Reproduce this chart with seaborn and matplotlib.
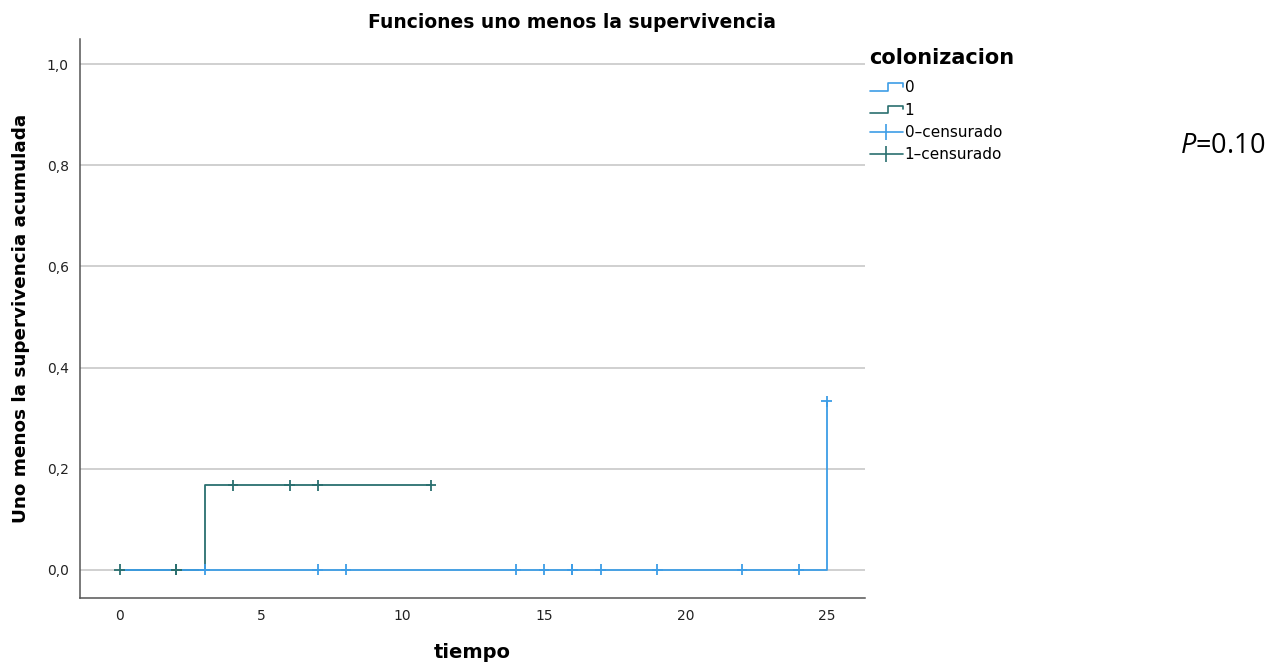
import numpy as np
import pandas as pd
import matplotlib
matplotlib.use("Agg")
import matplotlib.pyplot as plt
import seaborn as sns
from matplotlib.lines import Line2D
from matplotlib.legend_handler import HandlerBase

# curvas (uno menos la supervivencia) por grupo
tiempo_0 = [0, 25]
valor_0 = [0.0, 0.3333]
tiempo_1 = [0, 3, 11]
valor_1 = [0.0, 0.1667, 0.1667]

# casos censurados
cens_t_0 = [3, 7, 8, 14, 15, 16, 16, 17, 19, 22, 24, 25]
cens_y_0 = [0, 0, 0, 0, 0, 0, 0, 0, 0, 0, 0, 0.3333]
cens_t_1 = [0, 2, 2, 4, 6, 7, 11]
cens_y_1 = [0, 0, 0, 0.1667, 0.1667, 0.1667, 0.1667]

y_ticks = [0.0, 0.2, 0.4, 0.6, 0.8, 1.0]
x_ticks = [0, 5, 10, 15, 20, 25]

col0 = "#3d9de6"
col1 = "#2a6f6f"


class StepHandler(HandlerBase):
    def create_artists(self, legend, orig_handle, xdescent, ydescent,
                       width, height, fontsize, trans):
        y0 = height * 0.15 - ydescent
        y1 = height * 0.85 - ydescent
        xs = [-xdescent, -xdescent + width * 0.55, -xdescent + width * 0.55, -xdescent + width, -xdescent + width]
        ys = [y0, y0, y1, y1, y0 + (y1 - y0) * 0.5]
        ln = Line2D(xs, ys, color=orig_handle.get_color(), lw=1.2, transform=trans)
        return [ln]


sns.set_style("white")
plt.rcParams['font.family'] = ['DejaVu Sans']
plt.rcParams['text.color'] = 'black'
plt.rcParams['axes.labelcolor'] = 'black'
plt.rcParams['mathtext.fontset'] = 'custom'
plt.rcParams['mathtext.it'] = 'Open Sans:italic'
plt.rcParams['mathtext.rm'] = 'Open Sans'

fig = plt.figure(figsize=(12.86, 6.66), dpi=100)
ax = fig.add_axes([0.0622, 0.1021, 0.6104, 0.8393])

curvas = pd.concat([
    pd.DataFrame({"tiempo": tiempo_0, "valor": valor_0, "grupo": "0"}),
    pd.DataFrame({"tiempo": tiempo_1, "valor": valor_1, "grupo": "1"}),
])
cens = pd.concat([
    pd.DataFrame({"tiempo": cens_t_0, "valor": cens_y_0, "grupo": "0"}),
    pd.DataFrame({"tiempo": cens_t_1, "valor": cens_y_1, "grupo": "1"}),
])
pal = {"0": col0, "1": col1}

for y in y_ticks:
    ax.axhline(y, color="#c8c8c8", lw=1.2, zorder=0)

sns.lineplot(data=curvas, x="tiempo", y="valor", hue="grupo", palette=pal,
             estimator=None, drawstyle="steps-post", lw=1.3, legend=False, ax=ax,
             hue_order=["1", "0"])
sns.scatterplot(data=cens, x="tiempo", y="valor", hue="grupo", palette=pal,
                marker="+", s=60, linewidth=1.3, legend=False, ax=ax, zorder=4)

ax.set_xlim(-1.41, 26.35)
ax.set_ylim(-0.056, 1.05)
ax.set_xticks(x_ticks)
ax.set_xticklabels([str(v) for v in x_ticks])
ax.set_yticks(y_ticks)
ax.set_yticklabels([f"{v:.1f}".replace(".", ",") for v in y_ticks])
ax.tick_params(length=0, labelsize=10, colors="#222222", pad=8)
for s in ["top", "right"]:
    ax.spines[s].set_visible(False)
for s in ["left", "bottom"]:
    ax.spines[s].set_color("#555555")
    ax.spines[s].set_linewidth(1.1)

ax.set_title("Funciones uno menos la supervivencia", fontsize=13.5, fontweight="bold",
             pad=8, x=0.627)
ax.set_xlabel("tiempo", fontsize=14, fontweight="bold", labelpad=14)
ax.set_ylabel("Uno menos la supervivencia acumulada", fontsize=13.2, fontweight="bold", labelpad=12)

handles = [
    Line2D([], [], color=col0),
    Line2D([], [], color=col1),
    Line2D([], [], color=col0, lw=1.2, marker="|", markersize=11, mew=1.2),
    Line2D([], [], color=col1, lw=1.2, marker="|", markersize=11, mew=1.2),
]
labels = ["0", "1", "0\u2013censurado", "1\u2013censurado"]
leg = ax.legend(handles, labels, title="colonizacion", loc="upper left",
                bbox_to_anchor=(0.998, 0.995), frameon=False, fontsize=11,
                handlelength=2.2, handletextpad=0.1, labelspacing=0.48,
                borderaxespad=0, alignment="left",
                handler_map={handles[0]: StepHandler(), handles[1]: StepHandler()})
leg.get_title().set_fontweight("bold")
leg.get_title().set_fontsize(15)
leg._legend_box.sep = 9  # a bit more room under the legend title

fig.text(0.9175, 0.781, r"$\mathit{P}$=0.10", fontsize=19.5, family="Open Sans", va="center")

fig.savefig("out.png", dpi=100)
